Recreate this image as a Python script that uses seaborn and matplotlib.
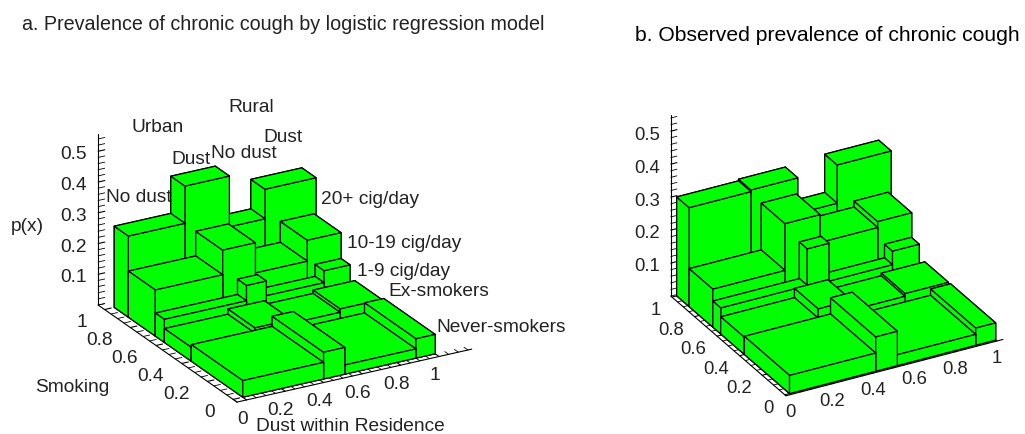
import matplotlib
matplotlib.use("Agg")
import matplotlib.pyplot as plt
from matplotlib.ticker import MultipleLocator
from mpl_toolkits.mplot3d import proj3d
import seaborn as sns

sns.set_theme(style="white")
plt.rcParams["font.family"] = ["Liberation Sans", "DejaVu Sans"]

# smoking class boundaries on the y axis (never, ex, 1-9, 10-19, 20+)
smoking_edges = [0, 0.40, 0.61, 0.68, 0.89, 1.0]

# dust boundaries in each smoking class, urban no dust / urban dust / rural no dust / rural dust
model_edges = [
    [0, 0.42, 0.53, 0.90, 1.0],
    [0, 0.33, 0.52, 0.773, 0.99],
    [0, 0.427, 0.53, 0.83, 0.965],
    [0, 0.35, 0.52, 0.79, 0.965],
    [0, 0.294, 0.525, 0.71, 0.975],
]
model_heights = [
    [0.054, 0.087, 0.03, 0.063],
    [0.045, 0.062, 0.05, 0.061],
    [0.075, 0.125, 0.077, 0.116],
    [0.15, 0.23, 0.132, 0.20],
    [0.264, 0.385, 0.22, 0.316],
]
observed_edges = [
    [0, 0.418, 0.523, 0.903, 1.0],
    [0, 0.358, 0.52, 0.779, 0.99],
    [0, 0.42, 0.525, 0.833, 0.963],
    [0, 0.35, 0.52, 0.80, 0.965],
    [0, 0.30, 0.527, 0.718, 0.98],
]
observed_heights = [
    [0.055, 0.104, 0.033, 0.052],
    [0.052, 0.08, 0.05, 0.058],
    [0.079, 0.19, 0.075, 0.116],
    [0.115, 0.257, 0.172, 0.19],
    [0.30, 0.305, 0.197, 0.313],
]

unit_ticks = [0, 0.2, 0.4, 0.6, 0.8, 1]
unit_labels = ["0", "0.2", "0.4", "0.6", "0.8", "1"]
p_ticks = [0.1, 0.2, 0.3, 0.4, 0.5]
p_labels = ["0.1", "0.2", "0.3", "0.4", "0.5"]


def put_label(ax, x, y, z, label, ha, size):
    # project to the flat axes coordinates so the text has a normal 2D position
    px, py, _ = proj3d.proj_transform(x, y, z, ax.get_proj())
    ax.text2D(px, py, label, transform=ax.transData, ha=ha, va="center", fontsize=size,
              color="#222222", zorder=100)


def draw_panel(rect, view, limits, aspect, edges, heights, offsets, size):
    ax = fig.add_axes([rect[0] / 1025, rect[1] / 435, rect[2] / 1025, rect[2] / 435],
                      projection="3d", computed_zorder=False)
    ax.patch.set_alpha(0)
    ax.view_init(elev=view[0], azim=view[1])
    ax.set_proj_type("ortho")
    ax.set_box_aspect(aspect)

    # back to front so the nearer blocks cover the farther ones
    order = 1
    for r in range(4, -1, -1):
        y0 = smoking_edges[r]
        dy = smoking_edges[r + 1] - y0
        for c in range(3, -1, -1):
            x0 = edges[r][c]
            ax.bar3d(x0, y0, 0, edges[r][c + 1] - x0, dy, heights[r][c], color="#00ff00",
                     edgecolor="black", linewidth=0.9, shade=False, zorder=order)
            order += 1

    xmin, xmax, ymin, ymax, zmax = limits
    ax.set_xlim(xmin, xmax, view_margin=0)
    ax.set_ylim(ymin, ymax, view_margin=0)
    ax.set_zlim(0, zmax, view_margin=0)
    ax.grid(False)
    ax.set_xticks(unit_ticks)
    ax.set_yticks(unit_ticks)
    ax.set_zticks(p_ticks)
    ax.xaxis.set_minor_locator(MultipleLocator(0.05))
    ax.yaxis.set_minor_locator(MultipleLocator(0.05))
    ax.zaxis.set_minor_locator(MultipleLocator(0.02))
    for axis in (ax.xaxis, ax.yaxis, ax.zaxis):
        axis.pane.set_visible(False)
        axis.line.set_color("black")
        axis.line.set_linewidth(0.8)
        axis._axinfo["tick"]["inward_factor"] = 0
        axis._axinfo["tick"]["outward_factor"] = 0.35
        axis._axinfo["tick"]["linewidth"] = {True: 0.8, False: 0.6}
        axis.set_tick_params(which="both", color="black", label1On=False, label2On=False)
        axis.label.set_visible(False)
        axis.offsetText.set_visible(False)

    # tick labels sit off the axes the way the original does it
    xshift, xdrop, yshift, ydrop, zshift, zlift = offsets
    for t, label in zip(unit_ticks, unit_labels):
        put_label(ax, t + xshift, ymin, xdrop, label, "center", size)
        put_label(ax, xmin + yshift, t, ydrop, label, "right", size)
    for t, label in zip(p_ticks, p_labels):
        put_label(ax, xmin + zshift, ymax, t + zlift, label, "right", size)
    return ax


fig = plt.figure(figsize=(10.25, 4.35), dpi=100)

draw_panel((69.7, -23, 419.2), (23.4, -119.6), (-0.05, 1.17, -0.03, 1.05, 0.555), (270, 281, 186),
           model_edges, model_heights, (-0.021, -0.056, -0.093, -0.027, -0.057, 0.0), 13.8)
draw_panel((636.8, 6.8, 389.7), (28.3, -118.7), (-0.023, 1.03, -0.01, 1.01, 0.55), (247.5, 239.7, 206),
           observed_edges, observed_heights, (0, -0.05, -0.052, -0.03, -0.053, 0.0), 13.3)

text_items = [
    ("Rural", 251, 108), ("Urban", 158, 128), ("Dust", 283, 138), ("Dust", 191, 160),
    ("No dust", 244, 153), ("No dust", 139, 198), ("20+ cig/day", 370, 200),
    ("10-19 cig/day", 404, 244), ("1-9 cig/day", 404, 272), ("Ex-smokers", 439, 291),
    ("Never-smokers", 501, 328), ("p(x)", 27, 227), ("Smoking", 72, 388),
    ("Dust within Residence", 350, 427),
]
for label, px, py in text_items:
    fig.text(px / 1025, 1 - py / 435, label, ha="center", va="center", fontsize=13.8, color="#222222")

fig.text(22 / 1025, 1 - 25 / 435, "a. Prevalence of chronic cough by logistic regression model",
         ha="left", va="center", fontsize=14.2, color="#222222")
fig.text(635 / 1025, 1 - 36 / 435, "b. Observed prevalence of chronic cough",
         ha="left", va="center", fontsize=15.2, color="black")

fig.savefig("out.png", dpi=100)
